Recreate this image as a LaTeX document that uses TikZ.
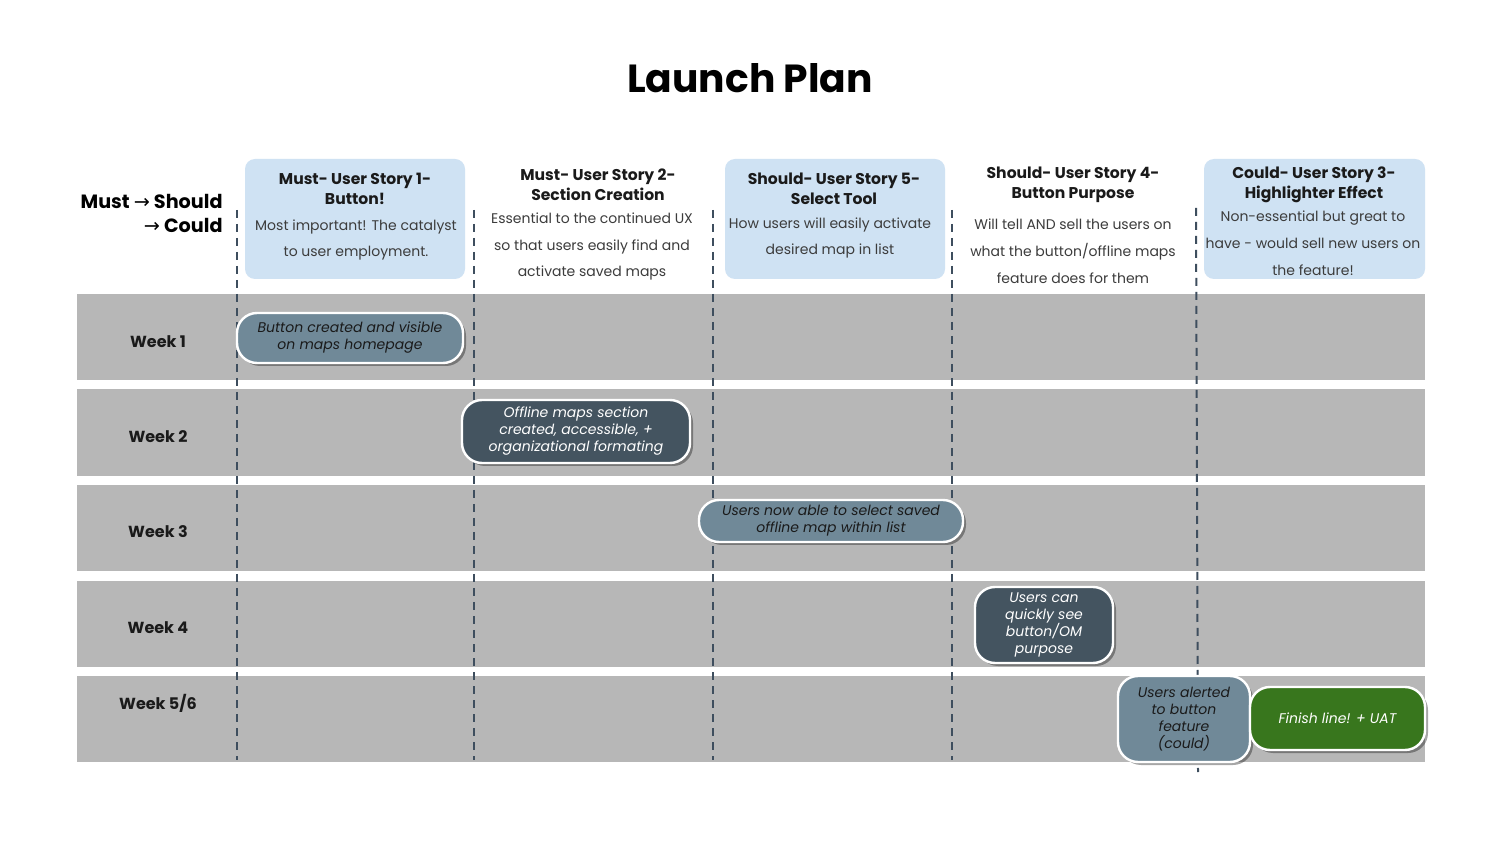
\documentclass[tikz,border=0pt]{standalone}
\usepackage{fontspec}
\setmainfont{Poppins}
\newfontfamily\symfont{DejaVu Sans}
\usetikzlibrary{shadows}
\definecolor{band}{HTML}{B7B7B7}
\definecolor{hdrblue}{HTML}{CFE2F3}
\definecolor{lighttask}{HTML}{708998}
\definecolor{darktask}{HTML}{445460}
\definecolor{greentask}{HTML}{38761D}
\definecolor{dashcol}{HTML}{3E4E5E}
\definecolor{ink}{HTML}{1A1A1A}
\tikzset{
  bandbox/.style={fill=band, draw=none},
  hdrbox/.style={fill=hdrblue, draw=none, rounded corners=5pt},
  hdrtitle/.style={font=\fontsize{7.8}{10}\selectfont\bfseries, text=ink, align=center, inner sep=0pt},
  hdrbody/.style={font=\fontsize{7}{13.4}\selectfont, text=ink!85, align=center, inner sep=0pt},
  weeklbl/.style={font=\fontsize{8}{10}\selectfont\bfseries, text=ink, inner sep=0pt},
  divider/.style={draw=dashcol, line width=1pt, dash pattern=on 4pt off 3pt},
  taskbox/.style={rounded corners=10pt, draw=white, line width=1.2pt, align=center,
     font=\fontsize{7}{8.5}\selectfont\itshape, inner sep=0pt,
     drop shadow={shadow xshift=1.5pt, shadow yshift=-1.5pt, opacity=0.35, fill=black}},
  lighttaskbox/.style={taskbox, fill=lighttask, text=ink},
  darktaskbox/.style={taskbox, fill=darktask, text=white},
  greentaskbox/.style={taskbox, fill=greentask, text=white},
}
\begin{document}
\begin{tikzpicture}[x=0.5pt,y=-0.5pt]
\useasboundingbox[fill=white] (0,0) rectangle (1500,844);

% title
\node[font=\fontsize{19.6}{24}\selectfont\bfseries, text=black, inner sep=0pt] (title) at (750,78) {Launch Plan};

% bands
\foreach \t/\b [count=\i] in {294/380, 389/476, 485/571, 581/667, 676/762}
  \path[bandbox] (77,\t) rectangle (1425,\b);

% header boxes
\path[hdrbox] (245,159) rectangle (465,279);
\path[hdrbox] (725,159) rectangle (945,279);
\path[hdrbox] (1204,159) rectangle (1425,279);

% priority label
\node[font=\fontsize{9.6}{12}\selectfont\bfseries, anchor=east, inner sep=0pt] (must) at (223,201) {Must {\symfont\mdseries →} Should};
\node[font=\fontsize{9.6}{12}\selectfont\bfseries, anchor=east, inner sep=0pt] (could) at (223,225) {{\symfont\mdseries →} Could};

% headers
\node[hdrtitle] (h1) at (355,189) {Must- User Story 1-\\Button!};
\node[hdrbody] (b1) at (356,240) {Most important! The catalyst\\to user employment.};
\node[hdrtitle] (h2) at (598,185) {Must- User Story 2-\\Section Creation};
\node[hdrbody] (b2) at (592,246.5) {Essential to the continued UX\\so that users easily find and\\activate saved maps};
\node[hdrtitle] (h3) at (834,189) {Should- User Story 5-\\Select Tool};
\node[hdrbody] (b3) at (830,238) {How users will easily activate\\desired map in list};
\node[hdrtitle] (h4) at (1073,185) {Should- User Story 4-\\Button Purpose};
\node[hdrbody] (b4) at (1073,251) {Will tell AND sell the users on\\what the button/offline maps\\feature does for them};
\node[hdrtitle] (h5) at (1314,185) {Could- User Story 3-\\Highlighter Effect};
\node[hdrbody] (b5) at (1313,243.5) {Non-essential but great to\\have - would sell new users on\\the feature!};

% week labels
\node[weeklbl] (w1) at (158,342) {Week 1};
\node[weeklbl] (w2) at (158,437) {Week 2};
\node[weeklbl] (w3) at (158,532) {Week 3};
\node[weeklbl] (w4) at (158,628) {Week 4};
\node[weeklbl] (w5) at (158,703) {Week 5/6};

% dividers
\coordinate (d1t) at (237,210); \coordinate (d1b) at (237,760);
\coordinate (d2t) at (474,210); \coordinate (d2b) at (474,760);
\coordinate (d3t) at (713,210); \coordinate (d3b) at (713,760);
\coordinate (d4t) at (952,210); \coordinate (d4b) at (952,760);
\coordinate (d5t) at (1196,208); \coordinate (d5b) at (1198,772);
\draw[divider] (d1t) -- (d1b);
\draw[divider] (d2t) -- (d2b);
\draw[divider] (d3t) -- (d3b);
\draw[divider] (d4t) -- (d4b);
\draw[divider] (d5t) -- (d5b);

% tasks
\node[lighttaskbox, minimum width=113pt, minimum height=25pt] (t1) at (350,338) {Button created and visible\\on maps homepage};
\node[darktaskbox, minimum width=114pt, minimum height=31.5pt] (t2) at (576,431.5) {Offline maps section\\created, accessible, +\\organizational formating};
\node[lighttaskbox, minimum width=132pt, minimum height=21pt] (t3) at (831,521) {Users now able to select saved\\offline map within list};
\node[darktaskbox, minimum width=69pt, minimum height=38pt] (t4) at (1044,625) {Users can\\quickly see\\button/OM\\purpose};
\node[lighttaskbox, minimum width=66pt, minimum height=43pt] (t5) at (1184,719) {Users alerted\\to button\\feature\\(could)};
\node[greentaskbox, minimum width=87.5pt, minimum height=31.5pt] (t6) at (1337.5,718.5) {Finish line! + UAT};
\end{tikzpicture}
\end{document}
